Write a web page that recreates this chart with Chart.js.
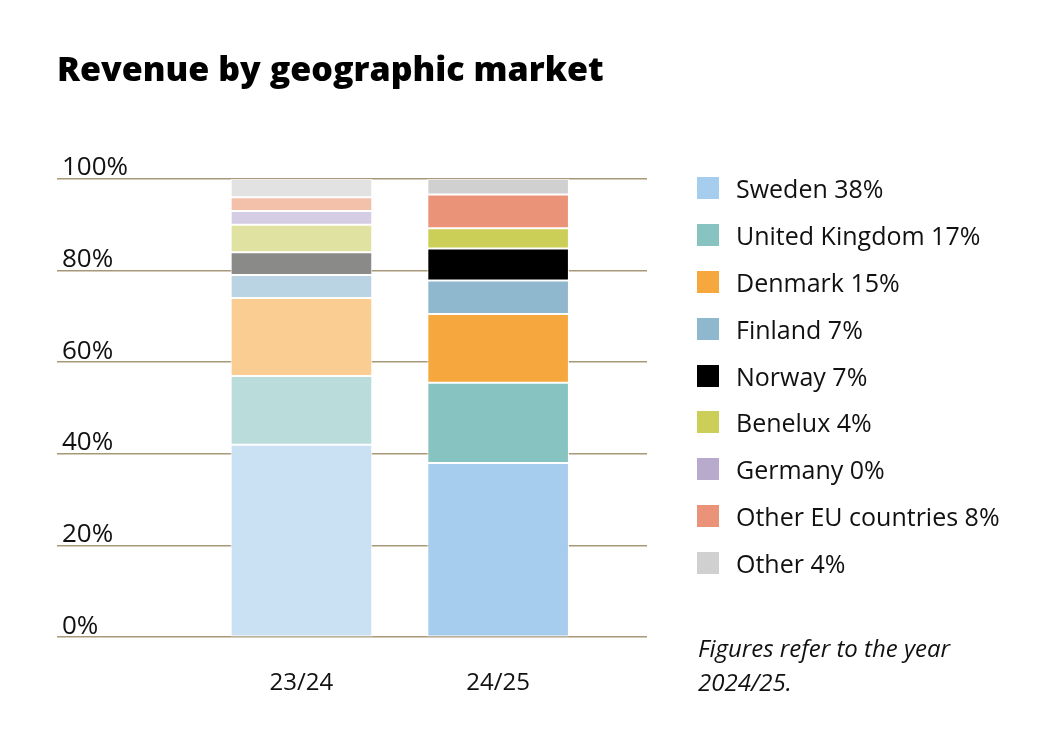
<!DOCTYPE html>
<html>
<head>
<meta charset="utf-8">
<script src="https://cdn.jsdelivr.net/npm/chart.js@4"></script>
<style>
  html, body { margin: 0; padding: 0; background: #fff; }
  #wrap { position: relative; width: 1063px; height: 756px; }
  #legend { position: absolute; left: 697px; top: 165px; font-family: 'Open Sans', sans-serif; font-size: 25px; color: #111; }
  .item { display: flex; align-items: center; height: 46.8px; }
  .swatch { width: 22px; height: 22px; margin-right: 17px; }
  #note { position: absolute; left: 698px; top: 631px; font-family: 'Open Sans', sans-serif; font-style: italic; font-size: 24px; line-height: 34px; color: #111; }
</style>
</head>
<body>
<div id="wrap">
  <canvas id="myChart" width="1063" height="756"></canvas>
  <div id="legend"></div>
  <div id="note">Figures refer to the year<br>2024/25.</div>
</div>
<script>
const periods = ['23/24', '24/25'];
const markets = ['Sweden', 'United Kingdom', 'Denmark', 'Finland', 'Norway', 'Benelux', 'Germany', 'Other EU countries', 'Other'];
const share2324 = [42, 15, 17, 5, 5, 6, 3, 3, 4];
const share2425 = [38, 17.5, 15, 7.3, 7, 4.4, 0, 7.4, 3.4];
const legendPct = [38, 17, 15, 7, 7, 4, 0, 8, 4];
const colors2324 = ['#cae0f3', '#badcdb', '#facd93', '#bbd4e3', '#8a8a88', '#e0e2a1', '#d5cde3', '#f3c0aa', '#e2e2e2'];
const colors2425 = ['#a6cdee', '#86c3c1', '#f6a83f', '#8fb7ce', '#000000', '#cbcf57', '#b8aacc', '#ea9379', '#d0d0d0'];

// legend built from the same arrays
const legend = document.getElementById('legend');
markets.forEach((m, i) => {
    const row = document.createElement('div');
    row.className = 'item';
    row.innerHTML = `<span class="swatch" style="background:${colors2425[i]}"></span>${m} ${legendPct[i]}%`;
    legend.appendChild(row);
});

const datasets = markets.map((m, i) => ({
    label: m,
    data: [share2324[i], share2425[i]].map((v, j) => ({ x: j, y: v })),
    backgroundColor: [colors2324[i], colors2425[i]],
    borderColor: '#ffffff',
    borderWidth: 1,
    borderSkipped: false,
    categoryPercentage: 1,
    barPercentage: 0.72,
}));

const ctx = document.getElementById('myChart');
new Chart(ctx, {
    type: 'bar',
    data: { datasets: datasets },
    options: {
        responsive: false,
        animation: false,
        layout: { padding: { left: 57, right: 416, top: 20, bottom: 26 } },
        plugins: {
            legend: { display: false },
            tooltip: { enabled: false },
            title: {
                display: true,
                text: 'Revenue by geographic market',
                align: 'start',
                color: '#000',
                font: { family: "'Open Sans', sans-serif", size: 34, weight: 800 },
                padding: { top: 31, bottom: 87 },
            },
        },
        scales: {
            x: {
                type: 'linear',
                stacked: true,
                offset: false,
                min: -1.243,
                max: 1.757,
                grid: { display: false, drawTicks: false },
                border: { display: false },
                afterBuildTicks: (s) => { s.ticks = periods.map((p, i) => ({ value: i })); },
                ticks: {
                    padding: 32,
                    maxRotation: 0,
                    autoSkip: false,
                    color: '#111',
                    font: { family: "'Open Sans', sans-serif", size: 24 },
                    callback: (v) => periods[v],
                },
            },
            y: {
                stacked: true,
                min: 0,
                max: 100,
                afterFit: (s) => { s.width = 0; },
                grid: { color: '#a89878', lineWidth: 1.5, drawTicks: false },
                border: { display: false },
                ticks: {
                    stepSize: 20,
                    mirror: true,
                    padding: 5,
                    labelOffset: -11,
                    color: '#111',
                    font: { family: "'Open Sans', sans-serif", size: 26 },
                    callback: (v) => v + '%',
                },
            },
        },
    },
});
</script>
</body>
</html>
